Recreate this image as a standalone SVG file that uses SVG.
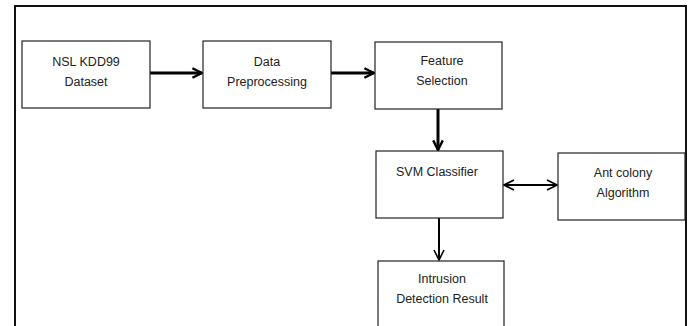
<svg xmlns="http://www.w3.org/2000/svg" width="692" height="326" viewBox="0 0 692 326">
<style>
.box{fill:#fff;stroke:#222;stroke-width:1.2}
.t{font-family:"Liberation Sans",Arial,sans-serif;font-size:12.5px;fill:#222;text-anchor:middle}
.thick{stroke:#000;stroke-width:3;fill:none}
.thin{stroke:#000;stroke-width:2;fill:none}
</style>
<defs>
<marker id="ah" viewBox="0 0 10 10" refX="9" refY="5" markerWidth="4" markerHeight="4" orient="auto" markerUnits="strokeWidth">
<path d="M1,1 L9,5 L1,9" fill="none" stroke="#000" stroke-width="2"/>
</marker>
<marker id="ah2" viewBox="0 0 12 12" refX="11" refY="6" markerWidth="6" markerHeight="6" orient="auto-start-reverse" markerUnits="strokeWidth">
<path d="M1,1 L11,6 L1,11" fill="none" stroke="#000" stroke-width="1.6"/>
</marker>
</defs>
<rect x="0" y="0" width="692" height="326" fill="#fff"/>
<path d="M15,330 V6 H686 V330" fill="none" stroke="#111" stroke-width="2"/>
<g id="connectors">
<line class="thick" x1="150" y1="73" x2="202" y2="73" marker-end="url(#ah)"/>
<line class="thick" x1="331" y1="73" x2="374" y2="73" marker-end="url(#ah)"/>
<line class="thick" x1="438" y1="109" x2="438" y2="150" marker-end="url(#ah)"/>
<line class="thin" x1="439" y1="218" x2="439" y2="260" marker-end="url(#ah2)"/>
<line class="thin" x1="504" y1="185" x2="557" y2="185" marker-start="url(#ah2)" marker-end="url(#ah2)"/>
</g>
<g id="nsl">
<rect class="box" x="22" y="41" width="128" height="67"/>
<text class="t" x="86" y="66">NSL KDD99</text>
<text class="t" x="86" y="86">Dataset</text>
</g>
<g id="prep">
<rect class="box" x="203" y="41" width="128" height="67"/>
<text class="t" x="267" y="66">Data</text>
<text class="t" x="267" y="86">Preprocessing</text>
</g>
<g id="feature">
<rect class="box" x="375" y="42" width="127" height="67"/>
<text class="t" x="442" y="65">Feature</text>
<text class="t" x="442" y="85">Selection</text>
</g>
<g id="svm">
<rect class="box" x="376" y="151" width="127" height="67"/>
<text class="t" x="437" y="176">SVM Classifier</text>
</g>
<g id="ant">
<rect class="box" x="558" y="153" width="127" height="67"/>
<text class="t" x="623" y="177">Ant colony</text>
<text class="t" x="623" y="197">Algorithm</text>
</g>
<g id="result">
<rect class="box" x="378" y="261" width="126" height="80"/>
<text class="t" x="442" y="283">Intrusion</text>
<text class="t" x="442" y="303">Detection Result</text>
</g>
</svg>
